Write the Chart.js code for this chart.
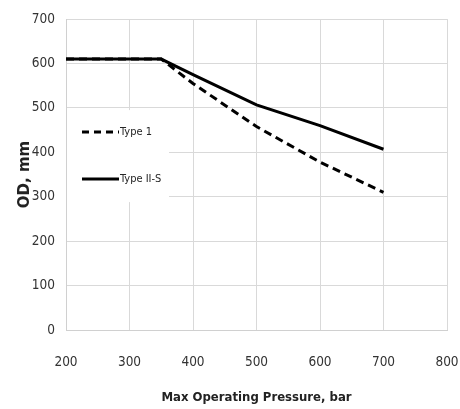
<!DOCTYPE html>
<html>
<head>
<meta charset="utf-8">
<script src="https://cdn.jsdelivr.net/npm/chart.js@4"></script>
<style>
  html, body { margin: 0; padding: 0; background: #fff; }
  #wrap { width: 460px; height: 409px; }
</style>
</head>
<body>
<div id="wrap"><canvas id="c" width="460" height="409"></canvas></div>
<script>
// Max operating pressure (bar) against outer diameter (mm)
const type1Pressure = [200, 350, 400, 500, 600, 700];
const type1OD       = [610, 610, 555, 458, 378, 310];
const type2Pressure = [200, 350, 400, 500, 600, 700];
const type2OD       = [610, 610, 575, 507, 460, 407];
const seriesNames   = ['Type 1', 'Type II-S'];
const xTickValues   = [200, 300, 400, 500, 600, 700, 800];
const yTickValues   = [0, 100, 200, 300, 400, 500, 600, 700];
const xTitle = 'Max Operating Pressure, bar';
const yTitle = 'OD, mm';

const narrow = "'DejaVu Sans Condensed', 'Liberation Sans Narrow', 'Liberation Sans', sans-serif";

function toPoints(xs, ys) {
  return xs.map((x, i) => ({ x: x, y: ys[i] }));
}

// Legend drawn inside the plot on a white panel
const innerLegend = {
  id: 'innerLegend',
  afterDatasetsDraw(chart) {
    const { ctx, chartArea } = chart;
    const boxX = chartArea.left + 1;
    const boxY = chartArea.top + 91;
    ctx.save();
    ctx.fillStyle = '#ffffff';
    ctx.fillRect(boxX, boxY, 102, 92);
    const rows = [boxY + 22, boxY + 69];
    [0, 1].forEach((di, r) => {
      const ds = chart.data.datasets[di];
      const y = rows[r];
      const x0 = boxX + 15;
      const len = 37;
      ctx.beginPath();
      ctx.strokeStyle = ds.borderColor;
      ctx.lineWidth = ds.borderWidth;
      ctx.lineCap = 'butt';
      ctx.setLineDash(ds.legendDash || []);
      ctx.moveTo(x0, y);
      ctx.lineTo(x0 + len, y);
      ctx.stroke();
      ctx.setLineDash([]);
      ctx.fillStyle = '#262626';
      ctx.font = '11px ' + narrow;
      ctx.textBaseline = 'middle';
      ctx.textAlign = 'left';
      ctx.fillText(ds.label, x0 + len + 1, y);
    });
    ctx.restore();
  }
};

new Chart(document.getElementById('c'), {
  type: 'line',
  data: {
    datasets: [
      {
        label: seriesNames[0],
        data: toPoints(type1Pressure, type1OD),
        borderColor: '#000000',
        borderWidth: 3,
        borderDash: [8, 5],
        legendDash: [7, 5],
        pointRadius: 0,
        tension: 0,
        fill: false,
        order: 1
      },
      {
        label: seriesNames[1],
        data: toPoints(type2Pressure, type2OD),
        borderColor: '#000000',
        borderWidth: 3,
        pointRadius: 0,
        tension: 0,
        fill: false,
        order: 0
      }
    ]
  },
  options: {
    responsive: false,
    animation: false,
    devicePixelRatio: 1,
    layout: { padding: { top: 19, right: 13, bottom: 0, left: 0 } },
    plugins: {
      legend: { display: false },
      tooltip: { enabled: false }
    },
    scales: {
      x: {
        type: 'linear',
        min: 200,
        max: 800,
        afterBuildTicks(scale) { scale.ticks = xTickValues.map(v => ({ value: v })); },
        afterFit(scale) {
          scale.height = 79;
          scale.paddingLeft = 0;
          scale.paddingRight = 0;
        },
        grid: { color: '#d9d9d9', lineWidth: 1, drawTicks: false },
        border: { color: '#d0d0d0', width: 1 },
        ticks: {
          padding: 24,
          color: '#333333',
          font: { family: narrow, size: 13.5 }
        },
        title: {
          display: true,
          text: xTitle,
          color: '#222222',
          font: { family: narrow, size: 13, weight: 'bold' },
          padding: { top: 0, bottom: 4 }
        }
      },
      y: {
        type: 'linear',
        min: 0,
        max: 700,
        afterBuildTicks(scale) { scale.ticks = yTickValues.map(v => ({ value: v })); },
        afterFit(scale) { scale.width = 66; },
        grid: { color: '#d9d9d9', lineWidth: 1, drawTicks: false },
        border: { color: '#d0d0d0', width: 1 },
        ticks: {
          padding: 11,
          color: '#333333',
          font: { family: narrow, size: 13.5 }
        },
        title: {
          display: true,
          text: yTitle,
          color: '#222222',
          font: { family: "'DejaVu Sans', sans-serif", size: 15, weight: 'bold' },
          padding: { top: 16, bottom: 0 }
        }
      }
    }
  },
  plugins: [innerLegend]
});
</script>
</body>
</html>
